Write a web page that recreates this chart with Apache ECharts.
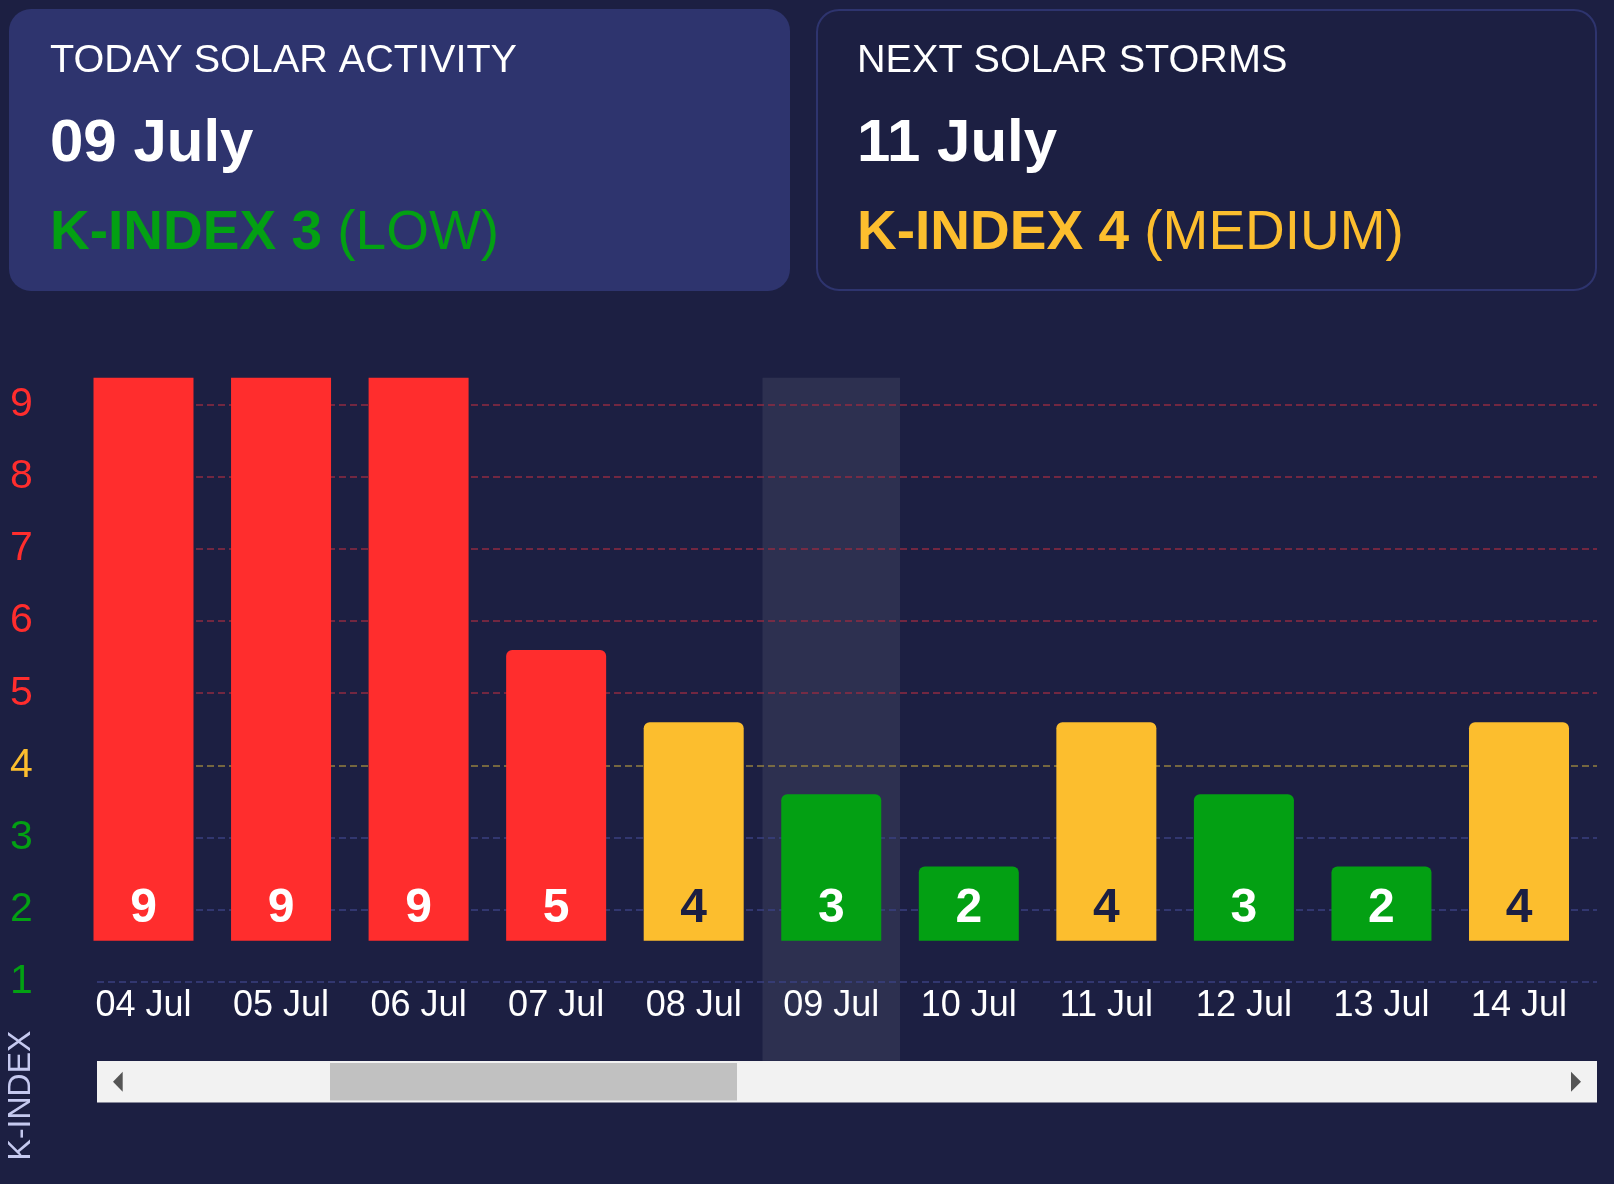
<!DOCTYPE html>
<html>
<head>
<meta charset="utf-8">
<script src="https://cdn.jsdelivr.net/npm/echarts@6/dist/echarts.min.js"></script>
<style>
  html, body { margin: 0; padding: 0; background: #1c1f42; }
  #chart { width: 1614px; height: 1184px; }
</style>
</head>
<body>
<div id="chart"></div>
<script>
// ---- data ----
const categories = ['04 Jul', '05 Jul', '06 Jul', '07 Jul', '08 Jul', '09 Jul', '10 Jul', '11 Jul', '12 Jul', '13 Jul', '14 Jul'];
const kValues = [9, 9, 9, 5, 4, 3, 2, 4, 3, 2, 4];
const yTicks = [1, 2, 3, 4, 5, 6, 7, 8, 9];
const todayLabel = '09 Jul';

const todayTitle = 'TODAY SOLAR ACTIVITY';
const todayDate = '09 July';
const todayK = 3;
const todayLevel = 'LOW';

const nextTitle = 'NEXT SOLAR STORMS';
const nextDate = '11 July';
const nextK = 4;
const nextLevel = 'MEDIUM';

// ---- styling ----
const BG = '#1c1f42';
const CARD = '#2e346e';
const RED = '#ff2d2d';
const YEL = '#fcbe2e';
const GRN = '#03a013';
const FONT = '"Liberation Sans", Arial, Helvetica, sans-serif';

function levelColor(k) { return k >= 5 ? RED : (k === 4 ? YEL : GRN); }
function lineColor(k) { return k >= 5 ? '#8f2b41' : (k === 4 ? '#93803f' : '#3a4080'); }

// scroll window of the x axis (in category index units)
const VIEW_MIN = -0.338, VIEW_MAX = 10.567;
const BAR_AXIS_MIN = 0.97, BAR_AXIS_MAX = 8.776;

const todayIdx = categories.indexOf(todayLabel);

const chart = echarts.init(document.getElementById('chart'), null, { renderer: 'canvas' });

const option = {
  backgroundColor: BG,
  animation: false,
  textStyle: { fontFamily: FONT },
  grid: [
    { left: 97, right: 17, top: 377.7, bottom: 123.3 },
    { left: 97, right: 17, top: 377.7, bottom: 243.3 }
  ],
  xAxis: [
    { type: 'value', gridIndex: 0, min: VIEW_MIN, max: VIEW_MAX, show: false },
    {
      type: 'value', gridIndex: 1, min: VIEW_MIN, max: VIEW_MAX,
      axisLine: { show: false }, axisTick: { show: false }, splitLine: { show: false },
      axisLabel: {
        customValues: categories.map((c, i) => i),
        formatter: v => categories[v],
        color: '#ffffff', fontSize: 36, fontFamily: FONT, margin: 47.5,
        showMinLabel: true, showMaxLabel: true
      }
    }
  ],
  yAxis: [
    {
      type: 'value', gridIndex: 0, min: -0.095, max: 9.374,
      axisLine: { show: false }, axisTick: { show: false }, splitLine: { show: false },
      axisLabel: {
        customValues: yTicks,
        formatter: v => String(v),
        color: v => levelColor(Number(v)),
        fontSize: 41, fontFamily: FONT, align: 'left', margin: 87,
        padding: [0, 0, 18, 0]
      }
    },
    { type: 'value', gridIndex: 1, min: BAR_AXIS_MIN, max: BAR_AXIS_MAX, show: false }
  ],
  series: [
    {
      type: 'line', xAxisIndex: 0, yAxisIndex: 0, data: [], silent: true, z: 1,
      markArea: {
        silent: true, z: 1,
        itemStyle: { color: 'rgba(255,255,255,0.08)' },
        data: [[{ xAxis: todayIdx - 0.5 }, { xAxis: todayIdx + 0.5 }]]
      },
      markLine: {
        silent: true, z: 2,
        symbol: ['none', 'none'],
        label: { show: false },
        data: yTicks.map(k => ({ yAxis: k, lineStyle: { color: lineColor(k), type: [7, 4], width: 1.5 } }))
      }
    },
    {
      type: 'bar', xAxisIndex: 1, yAxisIndex: 1, barWidth: 100, z: 5,
      data: kValues.map((v, i) => ({
        value: [i, v],
        itemStyle: { color: levelColor(v), borderRadius: v > BAR_AXIS_MAX ? 0 : [6, 6, 0, 0] },
        label: { color: v === 4 ? BG : '#ffffff' }
      })),
      label: {
        show: true, position: 'insideBottom', distance: 8,
        fontSize: 48, fontWeight: 'bold', fontFamily: FONT,
        formatter: p => String(p.value[1])
      }
    }
  ],
  graphic: [
    // cards
    { type: 'rect', z: 0, shape: { x: 9, y: 9, width: 781, height: 282, r: 22 }, style: { fill: CARD } },
    { type: 'rect', z: 0, shape: { x: 817, y: 10, width: 779, height: 280, r: 22 }, style: { fill: BG, stroke: CARD, lineWidth: 2 } },
    { type: 'text', z: 1, style: { text: todayTitle, x: 50, y: 61, verticalAlign: 'middle', fontSize: 39.6, fontFamily: FONT, fill: '#ffffff' } },
    { type: 'text', z: 1, style: { text: todayDate, x: 50, y: 144, verticalAlign: 'middle', fontSize: 60, fontWeight: 'bold', fontFamily: FONT, fill: '#ffffff' } },
    { type: 'text', z: 1, style: {
        text: '{b|K-INDEX ' + todayK + '} {n|(' + todayLevel + ')}', x: 50, y: 234, verticalAlign: 'middle',
        fontFamily: FONT, fontSize: 55,
        rich: { b: { fontSize: 55, fontWeight: 'bold', fill: levelColor(todayK), fontFamily: FONT }, n: { fontSize: 55, fill: levelColor(todayK), fontFamily: FONT } }
    } },
    { type: 'text', z: 1, style: { text: nextTitle, x: 857, y: 61, verticalAlign: 'middle', fontSize: 39.6, fontFamily: FONT, fill: '#ffffff' } },
    { type: 'text', z: 1, style: { text: nextDate, x: 857, y: 144, verticalAlign: 'middle', fontSize: 60, fontWeight: 'bold', fontFamily: FONT, fill: '#ffffff' } },
    { type: 'text', z: 1, style: {
        text: '{b|K-INDEX ' + nextK + '} {n|(' + nextLevel + ')}', x: 857, y: 234, verticalAlign: 'middle',
        fontFamily: FONT, fontSize: 55,
        rich: { b: { fontSize: 55, fontWeight: 'bold', fill: levelColor(nextK), fontFamily: FONT }, n: { fontSize: 55, fill: levelColor(nextK), fontFamily: FONT } }
    } },
    // axis title
    { type: 'text', z: 1, x: 20.7, y: 1095.5, rotation: Math.PI / 2,
      style: { text: 'K-INDEX', align: 'center', verticalAlign: 'middle', fontSize: 32, fontFamily: FONT, fill: '#c5c9ef' } },
    // scrollbar
    { type: 'rect', z: 1, shape: { x: 97, y: 1061, width: 1500, height: 41.5 }, style: { fill: '#f2f2f2' } },
    { type: 'rect', z: 2, shape: { x: 330, y: 1063, width: 407, height: 37.5 }, style: { fill: '#c1c1c1' } },
    { type: 'polygon', z: 2, shape: { points: [[113, 1081.7], [122.7, 1071.7], [122.7, 1091.7]] }, style: { fill: '#555555' } },
    { type: 'polygon', z: 2, shape: { points: [[1581, 1081.7], [1571, 1071.7], [1571, 1091.7]] }, style: { fill: '#555555' } }
  ]
};

chart.setOption(option);
</script>
</body>
</html>
